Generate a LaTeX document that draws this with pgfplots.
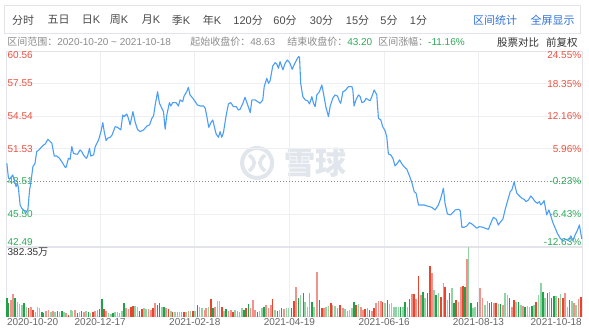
\documentclass[border=0pt]{standalone}
\usepackage{fontspec}
\setmainfont{Liberation Sans}
\newfontfamily\cjk{Noto Sans CJK SC}
\usepackage{pgfplots}
\pgfplotsset{compat=1.18}
\definecolor{upred}{HTML}{E8452F}
\definecolor{upredl}{HTML}{F2928A}
\definecolor{dngreen}{HTML}{1FA24A}
\definecolor{dngreenl}{HTML}{8FD4A2}
\definecolor{lineblue}{HTML}{4A9EFA}
\definecolor{gridc}{HTML}{EDEFF3}
\definecolor{framec}{HTML}{E2E4E9}
\definecolor{labred}{HTML}{EB5240}
\definecolor{labgreen}{HTML}{2DAA58}
\definecolor{toolgray}{HTML}{4A4A4A}
\definecolor{toolblue}{HTML}{2F72D8}
\definecolor{infogray}{HTML}{8C8C8C}
\definecolor{darktext}{HTML}{333333}
\definecolor{tickgray}{HTML}{666666}
\definecolor{wm}{HTML}{E1E5EC}
\newcommand{\fs}[1]{\fontsize{#1bp}{#1bp}\selectfont}
\begin{document}
\begin{tikzpicture}[x=1bp,y=1bp]
\fill[white] (0,0) rectangle (589,333);
% toolbar
\draw[framec, line width=0.8bp] (4,328) rectangle (580,300);
\begin{scope}[every node/.style={inner sep=0, text=toolgray, font=\fs{11}}]
\node at (23,313) {\cjk 分时};
\node at (58.5,313) {\cjk 五日};
\node at (91,313) {{\cjk 日}K};
\node at (119,313) {{\cjk 周}K};
\node at (151,313) {{\cjk 月}K};
\node at (181,313) {{\cjk 季}K};
\node at (212,313) {{\cjk 年}K};
\node at (248,313) {120{\cjk 分}};
\node at (285,313) {60{\cjk 分}};
\node at (321.5,313) {30{\cjk 分}};
\node at (357.5,313) {15{\cjk 分}};
\node at (389,313) {5{\cjk 分}};
\node at (418.5,313) {1{\cjk 分}};
\node[text=toolblue] at (495,313) {\cjk 区间统计};
\node[text=toolblue] at (552.5,313) {\cjk 全屏显示};
\end{scope}
% info row
\begin{scope}[every node/.style={inner sep=0, text=infogray, font=\fs{10}, anchor=west}]
\node at (7,291) {{\cjk 区间范围：}2020-10-20 \textasciitilde\ 2021-10-18};
\node at (190,291) {{\cjk 起始收盘价：}48.63};
\node at (287,291) {{\cjk 结束收盘价：}\textcolor{labgreen}{43.20}};
\node at (378,291) {{\cjk 区间涨幅：}\textcolor{labgreen}{-11.16\%}};
\node[text=darktext, font=\fs{10.5}] at (497,290) {\cjk 股票对比};
\node[text=darktext, font=\fs{10.5}] at (546,290) {\cjk 前复权};
\end{scope}
% watermark
\draw[wm, line width=4bp] (257,170) circle (15);
\draw[wm, line width=3.5bp] (249,178) .. controls (256,172) and (256,168) .. (249,162);
\draw[wm, line width=3.5bp] (265,178) .. controls (258,172) and (258,168) .. (265,162);
\node[text=wm, inner sep=0, font=\fs{31}] at (315,170) {\cjk\bfseries 雪球};
% price axis
\begin{axis}[at={(6.7bp,86.3bp)}, anchor=south west, scale only axis,
  width=575.3bp, height=195.7bp,
  xmin=0, xmax=242.7, ymin=42.49, ymax=60.56,
  xtick={39.4,79.3,119.2,159.2,199.0},
  ytick={42.49,45.50,51.53,54.54,57.55,60.56},
  xticklabel=\empty, yticklabel=\empty,
  grid=major, major grid style={gridc, line width=0.8bp},
  major tick length=0pt,
  axis line style={framec, line width=0.8bp},
  clip=false]
\addplot[infogray, line width=0.6bp, dash pattern=on 1bp off 2bp] coordinates {(0,48.51) (242.7,48.51)};
\begin{scope}[every node/.style={inner sep=0.6bp, font=\fs{10}}]
\node[anchor=north west, text=labred] at (axis cs:0,60.56) {60.56};
\node[anchor=west, text=labred] at (axis cs:0,57.55) {57.55};
\node[anchor=west, text=labred] at (axis cs:0,54.54) {54.54};
\node[anchor=west, text=labred] at (axis cs:0,51.53) {51.53};
\node[anchor=west, text=labgreen] at (axis cs:0,48.51) {48.51};
\node[anchor=west, text=labgreen] at (axis cs:0,45.50) {45.50};
\node[anchor=south west, text=labgreen] at (axis cs:0,42.49) {42.49};
\node[anchor=north east, text=labred] at (axis cs:242.7,60.56) {24.55\%};
\node[anchor=east, text=labred] at (axis cs:242.7,57.55) {18.35\%};
\node[anchor=east, text=labred] at (axis cs:242.7,54.54) {12.16\%};
\node[anchor=east, text=labred] at (axis cs:242.7,51.53) {5.96\%};
\node[anchor=east, text=labgreen] at (axis cs:242.7,48.51) {-0.23\%};
\node[anchor=east, text=labgreen] at (axis cs:242.7,45.50) {-6.43\%};
\node[anchor=south east, text=labgreen] at (axis cs:242.7,42.49) {-12.63\%};
\end{scope}
\addplot[lineblue, line width=1.1bp, line join=round] coordinates {
(0,50.19) (0.7,48.80) (1.4,48.80) (2.5,49.11) (3.1,48.65) (3.9,48.03) (4.5,48.34) (4.9,47.88) (5.6,46.34) (6.3,46.03) (7.3,45.82) (8.1,45.63) (8.9,45.94) (9.6,47.73) (10.1,48.34) (11.0,49.88) (11.9,50.19) (12.6,51.26) (13.8,51.48) (14.8,51.73) (15.5,51.88) (16.2,51.97) (17.3,52.40) (18.3,52.19) (19.0,52.03) (20.0,50.86) (21.1,50.86) (22.2,50.65) (23.6,50.19) (24.6,49.82) (25.0,49.82) (26.0,50.65) (26.7,50.56) (27.4,51.73) (28.1,51.11) (28.8,51.05) (29.8,51.02) (30.9,51.42) (31.6,51.27) (32.3,50.96) (33.5,50.65) (34.0,50.80) (34.9,51.57) (35.4,50.86) (36.6,50.96) (37.3,51.73) (38.7,52.34) (39.7,53.11) (40.5,53.94) (41.1,53.11) (41.9,52.28) (42.5,52.50) (43.6,52.59) (44.4,52.80) (45.7,53.57) (46.7,53.51) (48.1,53.27) (48.9,54.65) (49.5,54.50) (50.6,54.74) (51.3,54.34) (52.0,53.73) (53.2,54.96) (54.1,54.03) (55.1,53.33) (56.2,53.11) (57.7,53.27) (59.1,53.63) (60.2,53.73) (61.2,54.34) (61.9,54.56) (62.6,55.57) (63.6,56.80) (64.4,55.73) (65.4,55.27) (66.1,54.96) (66.8,53.33) (67.5,54.65) (68.6,55.79) (69.2,55.48) (70.0,55.79) (71.4,55.79) (72.4,55.48) (73.1,56.04) (74.2,55.88) (74.8,56.40) (75.9,56.80) (76.6,57.21) (77.3,56.50) (78.5,56.19) (79.5,55.88) (80.4,55.57) (81.6,55.48) (83.0,55.48) (83.7,55.27) (84.4,54.50) (85.2,53.51) (86.1,53.94) (86.9,54.19) (87.5,53.63) (88.3,52.90) (89.3,52.59) (90.0,53.11) (90.7,52.59) (91.4,53.02) (92.5,54.56) (93.5,55.67) (94.5,55.79) (95.6,55.42) (96.8,55.42) (97.7,55.11) (98.4,55.17) (99.6,55.73) (100.5,56.28) (101.5,55.67) (102.7,54.87) (103.4,56.04) (104.8,56.04) (105.8,55.88) (106.9,55.73) (108.0,56.04) (108.6,57.27) (109.7,58.04) (110.4,57.57) (111.1,57.82) (112.2,59.17) (113.2,59.48) (113.9,59.36) (114.6,58.96) (115.3,59.58) (116.5,58.81) (117.4,59.42) (118.4,59.73) (119.5,59.42) (120.4,58.87) (121.2,59.27) (122.4,59.79) (123.1,60.04) (123.5,59.98) (124.0,57.57) (124.9,56.34) (125.9,56.04) (126.9,55.97) (127.7,55.67) (128.7,56.34) (129.4,55.73) (130.1,55.42) (130.8,56.50) (131.9,56.80) (132.9,57.42) (133.6,56.65) (134.6,55.42) (135.7,54.50) (136.4,55.42) (137.5,56.19) (138.5,56.50) (139.5,56.40) (140.4,55.88) (140.9,55.73) (141.8,56.80) (142.8,56.90) (143.5,57.11) (144.2,57.27) (145.6,57.27) (146.0,56.96) (146.5,55.48) (147.4,56.10) (148.4,56.50) (149.1,56.34) (149.8,55.79) (150.8,55.88) (151.6,56.19) (152.6,56.04) (153.3,55.97) (154.0,56.34) (155.0,56.96) (156.1,56.50) (156.8,54.34) (157.8,54.19) (158.6,53.57) (159.6,53.20) (160.3,52.65) (161.0,51.05) (162.0,50.96) (162.9,50.65) (163.8,49.94) (164.8,50.19) (165.7,50.50) (166.7,50.13) (167.6,49.88) (168.8,49.63) (169.9,49.02) (170.9,48.40) (171.9,47.57) (172.7,47.42) (173.7,46.34) (174.7,46.34) (176.1,46.34) (177.2,46.25) (178.3,46.19) (179.3,46.12) (180.7,45.88) (182.1,46.34) (183.1,46.96) (184.2,47.88) (184.9,46.49) (185.9,45.51) (187.1,45.42) (188.2,45.63) (189.2,45.88) (190.6,45.94) (191.3,45.82) (192.0,44.28) (193.0,44.28) (194.1,44.40) (195.2,44.71) (196.2,44.59) (197.2,44.40) (198.3,44.19) (199.4,44.34) (200.8,44.28) (201.8,44.19) (203.2,44.09) (204.2,44.65) (205.3,45.20) (206.5,45.02) (207.4,44.49) (208.4,44.80) (209.3,45.02) (210.3,45.94) (211.2,46.65) (212.4,47.57) (213.1,47.73) (214.1,48.49) (214.5,48.03) (215.2,47.42) (216.3,47.17) (217.3,46.96) (218.3,46.86) (219.1,46.65) (220.1,46.80) (221.1,47.17) (221.9,46.96) (222.9,46.65) (223.9,46.49) (224.7,46.65) (225.3,46.34) (226.2,46.56) (226.7,46.74) (227.3,46.03) (227.8,45.42) (228.7,45.88) (229.2,45.57) (230.4,44.71) (231.4,44.19) (232.3,43.72) (233.5,43.26) (234.6,43.05) (235.7,43.17) (237.0,43.05) (238.0,43.48) (238.8,43.05) (239.8,43.57) (240.8,44.03) (241.6,44.49) (242.6,43.20)
};
\end{axis}
% volume axis
\begin{axis}[at={(6.7bp,16.3bp)}, anchor=south west, scale only axis,
  width=575.3bp, height=69.7bp,
  xmin=0, xmax=242.7, ymin=0, ymax=382.35,
  xtick={39.4,79.3,119.2,159.2,199.0}, ytick=\empty,
  xticklabel=\empty,
  xmajorgrids, major grid style={gridc, line width=0.8bp},
  major tick length=0pt,
  axis line style={framec, line width=0.8bp},
  clip=false]
\addplot[ycomb, upred, line width=1.5bp] coordinates {
(9.1,45.7) (11.0,36.6) (15.5,21.9) (21.4,32.9) (26.0,9.1) (36.3,27.4) (39.1,40.2) (41.1,40.2) (52.3,54.9) (53.2,58.5) (57.0,40.2) (61.6,45.7) (63.6,64.0) (68.2,40.2) (70.0,27.4) (74.8,27.4) (78.5,32.9) (86.1,95.1) (90.7,54.9) (95.4,27.4) (101.0,45.7) (105.8,27.4) (112.2,95.1) (114.2,32.9) (116.0,45.7) (121.2,87.8) (132.9,45.7) (136.7,73.2) (140.6,64.0) (147.4,64.0) (151.2,40.2) (153.0,36.6) (155.0,45.7) (158.6,82.3) (169.9,95.1) (171.9,124.4) (173.7,223.1) (178.6,278.0) (183.1,109.7) (184.9,164.6) (189.6,91.5) (192.4,168.3) (198.6,82.3) (203.6,73.2) (206.5,73.2) (214.1,91.5) (223.3,82.3) (229.9,100.6) (232.8,100.6) (234.6,100.6) (237.4,91.5) (242.2,109.7)
};
\addplot[ycomb, upredl, line width=1.5bp] coordinates {
(1.7,91.5) (2.5,124.4) (10.1,51.2) (12.0,27.4) (16.6,32.9) (17.6,36.6) (19.4,32.9) (25.0,21.9) (28.8,36.6) (32.6,27.4) (37.3,32.9) (38.2,36.6) (41.9,32.9) (47.5,21.9) (50.3,45.7) (51.3,40.2) (59.8,40.2) (60.8,36.6) (62.6,73.2) (67.2,45.7) (72.0,27.4) (73.8,27.4) (76.7,32.9) (83.3,36.6) (84.1,45.7) (87.9,54.9) (93.5,32.9) (94.5,36.6) (97.3,32.9) (98.2,27.4) (102.9,45.7) (103.8,91.5) (104.8,36.6) (109.4,64.0) (110.4,45.7) (111.4,64.0) (117.0,40.2) (122.1,164.6) (127.7,131.7) (130.8,246.9) (133.9,45.7) (137.5,64.0) (139.5,45.7) (141.8,45.7) (143.7,32.9) (149.4,54.9) (150.2,36.6) (152.2,45.7) (154.0,32.9) (155.8,73.2) (156.8,87.8) (157.8,87.8) (170.9,124.4) (172.7,95.1) (174.7,118.9) (179.3,237.8) (184.2,182.9) (190.6,82.3) (191.6,164.6) (194.1,314.6) (199.7,155.5) (200.8,100.6) (202.8,87.8) (205.6,76.8) (209.3,64.0) (213.1,54.9) (217.7,58.5) (235.6,128.0) (239.4,76.8) (241.2,95.1)
};
\addplot[ycomb, dngreen, line width=1.5bp] coordinates {
(0,104.3) (0.7,73.2) (3.5,104.3) (7.3,73.2) (14.8,27.4) (23.2,32.9) (29.8,21.9) (31.6,32.9) (34.5,27.4) (40.1,95.1) (44.7,21.9) (49.5,76.8) (56.0,32.9) (64.4,73.2) (66.4,51.2) (80.5,64.0) (86.9,45.7) (92.5,40.2) (100.1,36.6) (102.0,69.5) (108.6,51.2) (120.2,45.7) (123.1,100.6) (125.2,128.0) (128.7,82.3) (131.9,91.5) (146.5,82.3) (160.6,91.5) (166.2,51.2) (168.1,82.3) (175.5,137.2) (177.5,128.0) (181.1,118.9) (186.8,128.0) (188.7,76.8) (193.4,164.6) (195.8,73.2) (204.6,82.3) (208.4,69.5) (212.1,100.6) (215.9,82.3) (218.7,54.9) (221.5,58.5) (226.2,137.2) (228.1,131.7) (230.9,113.4)
};
\addplot[ycomb, dngreenl, line width=1.5bp] coordinates {
(4.5,82.3) (5.3,69.5) (6.3,64.0) (8.2,54.9) (12.9,54.9) (13.8,45.7) (18.6,27.4) (20.4,27.4) (22.2,27.4) (24.2,27.4) (27.0,36.6) (27.8,32.9) (30.7,27.4) (33.5,32.9) (35.4,21.9) (42.9,21.9) (43.9,14.6) (45.7,27.4) (46.7,27.4) (48.5,32.9) (54.1,58.5) (55.1,54.9) (57.9,45.7) (58.8,40.2) (65.4,54.9) (69.2,32.9) (71.0,27.4) (72.9,27.4) (75.7,27.4) (77.6,32.9) (79.5,32.9) (81.3,54.9) (82.3,45.7) (85.1,54.9) (88.9,87.8) (89.7,87.8) (91.7,32.9) (96.3,36.6) (99.2,45.7) (106.6,32.9) (107.6,45.7) (113.2,36.6) (115.0,36.6) (117.9,45.7) (118.9,45.7) (124.0,118.9) (125.9,82.3) (126.9,54.9) (129.7,51.2) (134.7,54.9) (135.7,58.5) (138.5,58.5) (142.7,40.2) (144.6,36.6) (145.6,45.7) (148.4,69.5) (159.6,73.2) (161.5,69.5) (162.4,76.8) (163.4,54.9) (164.3,51.2) (165.3,51.2) (167.1,51.2) (169.0,54.9) (176.5,100.6) (180.3,146.3) (182.1,128.0) (185.9,91.5) (187.8,155.5) (194.8,382.35) (196.6,45.7) (197.6,54.9) (201.8,64.0) (207.4,69.5) (210.3,128.0) (211.2,118.9) (214.9,82.3) (216.9,64.0) (219.7,58.5) (220.5,54.9) (222.5,64.0) (224.3,118.9) (225.3,186.6) (227.1,100.6) (229.0,137.2) (231.8,113.4) (233.7,124.4) (236.6,54.9) (238.4,87.8) (240.2,64.0)
};
\node[anchor=north west, inner sep=0.6bp, text=darktext, font=\fs{10}] at (axis cs:0,382.35) {382.35{\cjk 万}};
\begin{scope}[every node/.style={inner sep=0, text=tickgray, font=\fs{10}, yshift=-2bp}]
\node[anchor=north west] at (axis cs:0,0) {2020-10-20};
\node[anchor=north] at (axis cs:39.4,0) {2020-12-17};
\node[anchor=north] at (axis cs:79.3,0) {2021-02-18};
\node[anchor=north] at (axis cs:119.2,0) {2021-04-19};
\node[anchor=north] at (axis cs:159.2,0) {2021-06-16};
\node[anchor=north] at (axis cs:199.0,0) {2021-08-13};
\node[anchor=north east] at (axis cs:242.7,0) {2021-10-18};
\end{scope}
\end{axis}
\end{tikzpicture}
\end{document}
